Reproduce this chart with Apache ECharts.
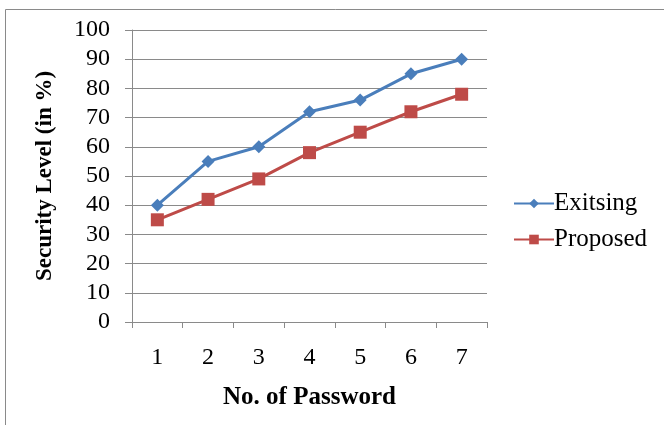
<!DOCTYPE html>
<html>
<head>
<meta charset="utf-8">
<script src="https://cdn.jsdelivr.net/npm/echarts@6/dist/echarts.min.js"></script>
<style>
  html, body { margin: 0; padding: 0; background: #fff; }
  #chart { width: 664px; height: 425px; }
</style>
</head>
<body>
<div id="chart"></div>
<script>
// Security level per number of passwords
const passwords = ['1', '2', '3', '4', '5', '6', '7'];
const existing = [40, 55, 60, 72, 76, 85, 90];
const proposed = [35, 42, 49, 58, 65, 72, 78];
const yTicks = { min: 0, max: 100, interval: 10 };

const serif = '"Liberation Serif", "DejaVu Serif", serif';
const chart = echarts.init(document.getElementById('chart'));

chart.setOption({
  animation: false,
  backgroundColor: '#fff',
  graphic: [{
    type: 'rect',
    shape: { x: 5.5, y: 9.5, width: 700, height: 500 },
    style: { fill: 'none', stroke: '#8a8a8a', lineWidth: 1 },
    silent: true
  }],
  grid: { left: 132, top: 30, width: 355, height: 292 },
  legend: {
    orient: 'vertical',
    left: 508,
    top: 186,
    itemWidth: 40,
    itemHeight: 12,
    itemGap: 11,
    textStyle: { fontFamily: serif, fontSize: 25, color: '#000', padding: [0, 0, 0, -5] },
    data: ['Exitsing', 'Proposed']
  },
  xAxis: {
    type: 'category',
    data: passwords,
    boundaryGap: true,
    name: 'No. of Password',
    nameLocation: 'middle',
    nameGap: 63,
    nameTextStyle: { fontFamily: serif, fontSize: 25, fontWeight: 'bold', color: '#000' },
    axisLine: { lineStyle: { color: '#8a8a8a', width: 1 } },
    axisTick: { show: true, length: 6, inside: false, lineStyle: { color: '#8a8a8a' } },
    axisLabel: { fontFamily: serif, fontSize: 24, color: '#000', margin: 24 }
  },
  yAxis: {
    type: 'value',
    min: yTicks.min,
    max: yTicks.max,
    interval: yTicks.interval,
    name: 'Security Level (in %)',
    nameLocation: 'middle',
    nameGap: 75,
    nameTextStyle: { fontFamily: serif, fontSize: 23, fontWeight: 'bold', color: '#000' },
    axisLine: { show: true, lineStyle: { color: '#8a8a8a', width: 1 } },
    axisTick: { show: true, length: 7, lineStyle: { color: '#8a8a8a' } },
    axisLabel: { fontFamily: serif, fontSize: 24, color: '#000', margin: 22 },
    splitLine: { show: true, lineStyle: { color: '#8a8a8a', width: 1 } }
  },
  series: [
    {
      name: 'Exitsing',
      type: 'line',
      data: existing,
      symbol: 'diamond',
      symbolSize: 13,
      itemStyle: { color: '#4A7EBB' },
      lineStyle: { color: '#4A7EBB', width: 3 }
    },
    {
      name: 'Proposed',
      type: 'line',
      data: proposed,
      symbol: 'rect',
      symbolSize: 13,
      itemStyle: { color: '#BE4B48' },
      lineStyle: { color: '#BE4B48', width: 3 }
    }
  ]
});
</script>
</body>
</html>
